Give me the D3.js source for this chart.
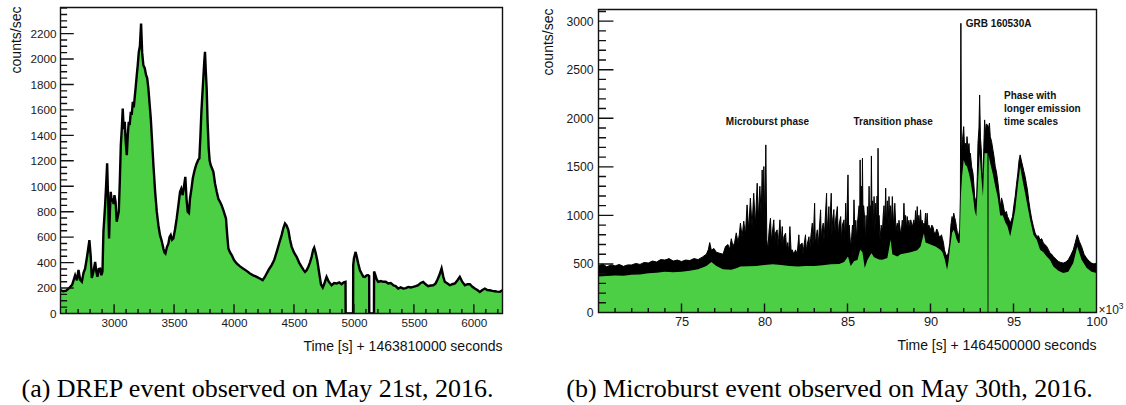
<!DOCTYPE html>
<html><head><meta charset="utf-8">
<script src="https://cdn.jsdelivr.net/npm/d3@7"></script>
<style>
html,body{margin:0;padding:0;background:#fff;}
svg{display:block;}
</style>
</head><body>
<svg id="chart" width="1126" height="405"></svg>
<script>
// ---------- Panel (a): DREP event ----------
const timeA = [2553,2575,2600,2625,2650,2675,2690,2703,2717,2731,2745,2758,2775,2794,2805,2814,2828,2842,2852,2861,2872,2883,2894,2903,2911,2925,2933,2942,2950,2958,2965,2972,2980,2989,2996,3003,3012,3022,3030,3039,3048,3056,3064,3072,3080,3089,3097,3106,3114,3122,3130,3139,3147,3156,3164,3172,3180,3189,3197,3206,3215,3225,3234,3244,3255,3267,3276,3286,3296,3306,3317,3328,3342,3356,3370,3383,3397,3411,3420,3428,3440,3453,3462,3472,3483,3494,3508,3522,3536,3550,3560,3572,3583,3594,3604,3614,3624,3633,3645,3656,3665,3675,3685,3694,3703,3711,3720,3728,3736,3744,3752,3758,3765,3772,3780,3789,3797,3806,3817,3828,3842,3856,3870,3883,3897,3911,3922,3933,3943,3953,3967,3981,4000,4022,4050,4078,4105,4133,4160,4189,4215,4239,4256,4272,4293,4314,4335,4356,4376,4397,4411,4425,4439,4453,4467,4481,4500,4522,4543,4564,4578,4592,4605,4619,4633,4647,4660,4669,4680,4694,4710,4725,4740,4755,4772,4790,4814,4835,4856,4877,4897,4915,4930,4931,4993,4994,5000,5014,5025,5036,5050,5064,5078,5092,5106,5119,5127,5128,5167,5168,5175,5189,5203,5224,5244,5265,5286,5307,5328,5348,5369,5390,5411,5432,5453,5474,5494,5515,5536,5557,5578,5598,5619,5640,5661,5680,5694,5712,5731,5745,5758,5780,5800,5820,5842,5862,5883,5903,5925,5946,5967,5988,6008,6029,6050,6071,6092,6112,6133,6155,6175,6196,6217,6239];
const countsA = [185,175,180,200,225,300,260,342,265,250,320,352,450,576,450,280,330,406,330,288,350,352,301,330,642,852,1000,1180,900,589,800,956,880,904,860,930,880,721,760,800,1050,1323,1450,1611,1450,1506,1350,1244,1400,1506,1480,1585,1560,1663,1620,1700,1780,1873,1950,2056,2100,2279,2050,1952,1930,1873,1850,1768,1650,1532,1350,1165,960,800,690,616,570,511,480,472,520,550,600,616,580,590,660,747,850,956,980,930,1000,1074,900,800,790,904,980,1061,1100,1139,1170,1191,1210,1218,1400,1585,1720,1847,1980,2056,1900,1768,1500,1296,1200,1165,1140,1113,1020,956,900,878,850,812,780,747,620,511,480,459,420,393,370,352,335,314,300,288,275,262,285,314,350,380,420,485,550,616,670,707,690,655,580,524,480,445,400,366,345,327,340,366,400,445,500,518,480,419,320,230,205,240,288,250,222,240,236,245,230,245,249,0,0,380,432,484,440,393,340,314,290,288,300,301,295,0,0,330,314,270,249,255,249,250,236,240,222,215,196,205,196,200,209,205,209,215,222,240,249,230,215,220,222,235,262,300,354,290,249,235,222,230,236,260,288,250,222,230,230,210,196,185,170,185,196,185,183,178,175,172,170,183];
const xTicksA = [3000,3500,4000,4500,5000,5500,6000];
const yTicksA = [0,200,400,600,800,1000,1200,1400,1600,1800,2000,2200];
const xTitleA = "Time [s] + 1463810000 seconds";
const captionA = "(a) DREP event observed on May 21st, 2016.";

// ---------- Panel (b): Microburst event (time in units of 10^3 s) ----------
const timeUB = [70.0,70.25,70.5,70.75,71.0,71.25,71.5,71.75,72.0,72.25,72.5,72.75,73.0,73.25,73.5,73.75,74.0,74.25,74.5,74.75,75.0,75.25,75.5,75.75,76.0,76.25,76.5,76.62,76.7,76.8,76.95,77.1,77.3,77.5,77.65,77.8,77.9,78.0,78.1,78.2,78.3,78.4,78.48,
78.55,78.65,78.75,78.85,78.95,79.05,79.15,79.25,79.35,79.45,79.56,79.62,79.72,79.8,79.86,79.92,79.96,80.02,80.08,80.14,80.2,80.28,80.36,80.42,80.46,80.56,80.62,80.66,80.76,80.82,80.85,80.93,81.0,81.07,81.12,81.17,81.27,81.33,81.4,81.46,81.53,81.6,81.67,81.77,81.87,81.97,82.07,82.12,82.17,82.27,82.32,82.37,82.47,82.52,82.57,82.68,82.73,82.78,82.88,82.92,82.95,83.02,83.06,83.1,83.18,83.23,83.28,83.38,83.42,83.46,83.54,83.58,83.64,83.74,83.77,83.8,83.88,83.92,83.95,84.02,84.06,84.1,84.18,84.23,84.28,84.39,84.44,84.49,84.59,84.64,84.69,84.79,84.84,84.89,84.93,84.96,85.03,85.08,85.1,85.19,85.25,85.3,85.35,85.39,85.45,85.5,85.55,85.6,85.7,85.73,85.76,85.8,85.84,85.87,85.9,85.94,85.97,86.04,86.08,86.12,86.16,86.2,86.25,86.3,86.34,86.37,86.4,86.44,86.48,86.52,86.56,86.6,86.65,86.7,86.74,86.78,86.81,86.84,86.87,86.9,86.96,87.03,87.1,87.15,87.2,87.25,87.3,87.35,87.4,87.45,87.5,87.55,87.6,87.65,87.7,87.78,87.85,87.92,88.0,88.05,88.1,88.2,88.25,88.3,88.35,88.4,88.45,88.5,88.55,88.6,88.65,88.7,88.75,88.81,88.9,89.0,89.05,89.1,89.15,89.2,89.25,89.3,89.35,89.4,89.45,89.5,89.55,89.6,89.65,89.7,89.75,89.8,89.85,89.9,
90.0,90.08,90.15,90.22,90.3,90.38,90.45,90.52,90.6,90.66,90.72,90.78,90.84,90.92,91.0,91.08,91.16,91.23,91.3,91.35,91.4,91.45,91.5,91.56,91.62,91.68,91.72,91.76,91.8,91.83,91.86,91.93,92.0,92.05,92.1,92.15,92.2,92.26,92.32,92.36,92.4,92.48,92.56,92.62,92.66,92.72,92.76,92.82,92.86,92.92,92.96,93.01,93.06,93.11,93.16,93.21,93.26,93.31,93.36,93.43,93.5,93.55,93.6,93.68,93.76,93.83,93.9,93.97,94.04,94.12,94.2,94.28,94.36,94.43,94.5,94.57,94.64,94.72,94.8,94.87,94.94,95.02,95.1,95.18,95.26,95.33,95.4,95.48,95.56,95.63,95.7,95.77,95.84,95.92,96.0,96.1,96.2,96.3,96.4,96.5,96.6,96.7,96.8,96.9,97.0,97.1,97.2,97.3,97.4,97.55,97.7,97.85,98.0,98.15,98.3,98.45,98.6,98.72,98.84,98.97,99.1,99.25,99.4,99.55,99.7,99.85,100.0];
const upperB = [480,500,470,490,480,495,475,490,490,505,495,515,510,530,520,545,540,555,530,540,525,540,535,555,545,570,600,650,720,640,660,620,610,600,680,700,650,760,680,720,820,720,800,
920,780,940,800,1108,850,1177,880,1228,900,1331,950,1300,1000,1468,1050,1503,900,1726,750,645,850,971,720,800,954,700,820,851,680,760,954,700,885,680,780,817,650,720,620,885,640,645,600,645,600,800,620,700,714,600,680,800,620,700,780,640,760,920,680,800,1125,700,760,851,680,800,1057,720,850,920,740,900,1228,760,900,1091,760,950,1228,780,950,1060,760,950,1091,760,900,988,740,900,954,740,1125,760,950,1417,700,900,680,780,900,760,1160,780,950,760,920,1100,820,1571,900,1300,900,1589,850,1100,954,700,1000,760,1091,800,1300,850,1100,850,1612,850,1150,850,1194,820,1125,850,1200,850,1691,820,1000,748,900,817,1000,1100,880,1280,900,1150,880,1194,900,1100,900,1194,880,1125,850,920,820,950,817,850,950,860,1125,880,1000,860,988,870,950,860,954,880,954,880,1050,900,1091,900,1000,900,1057,900,950,880,920,900,1023,880,1023,860,900,
851,900,880,820,817,860,830,780,783,800,760,720,645,600,577,620,714,900,988,950,1023,980,950,886,820,783,820,850,1200,2978,1640,1780,1914,1700,1743,1650,1811,1680,1740,1600,1640,1500,1434,1300,1194,1150,1091,1400,1743,1900,2240,1800,1675,1450,1331,1700,1983,1850,1940,1932,1900,1950,1811,1760,1675,1600,1503,1450,1366,1250,1091,1180,1126,1060,1023,1040,988,960,920,950,988,1100,1194,1320,1434,1560,1623,1560,1503,1450,1400,1330,1263,1150,1057,960,886,820,783,790,748,760,714,700,680,650,611,600,577,550,526,515,509,520,543,590,645,720,800,730,680,600,560,530,509,500,509];
const timeLB = [70.0,70.5,71.0,71.5,72.0,72.5,73.0,73.5,74.0,74.5,75.0,75.5,76.0,76.5,76.8,77.1,77.5,78.0,78.3,78.55,79.0,79.5,80.0,80.5,81.0,81.5,82.0,82.5,83.0,83.5,84.0,84.5,84.8,85.03,85.19,85.4,85.6,85.76,85.9,86.04,86.2,86.44,86.6,86.9,87.1,87.4,87.6,87.7,88.0,88.2,88.5,88.8,89.0,89.2,89.4,89.6,89.7,90.0,90.3,90.6,90.72,90.84,91.0,91.08,91.16,91.3,91.4,91.5,91.56,91.68,91.76,91.8,91.84,91.9,92.0,92.1,92.2,92.32,92.4,92.56,92.66,92.76,92.86,92.96,93.06,93.16,93.26,93.36,93.43,93.44,93.49,93.5,93.6,93.76,93.9,94.04,94.2,94.36,94.5,94.64,94.8,94.94,95.1,95.26,95.4,95.56,95.7,95.84,96.0,96.2,96.4,96.6,96.8,97.0,97.2,97.4,97.7,98.0,98.3,98.6,98.84,99.1,99.4,99.7,100.0];
const lowerB = [370,375,380,378,388,392,405,410,420,415,420,430,445,480,520,480,445,440,455,474,476,480,490,498,490,478,474,478,480,486,496,500,520,577,480,530,540,645,620,457,540,611,570,545,542,560,748,600,577,600,611,620,630,640,680,817,720,700,680,645,620,560,440,520,645,820,851,800,760,714,720,1000,1229,1400,1571,1520,1503,1430,1366,1200,1050,988,1331,1640,1400,1194,1640,1640,1640,0,0,1620,1537,1420,1300,1194,1000,1000,930,886,783,900,1050,1300,1500,1350,1229,1100,954,800,748,645,620,577,540,474,430,406,420,509,680,543,460,420,406];
const xTicksB = [75,80,85,90,95,100];
const yTicksB = [0,500,1000,1500,2000,2500,3000];
const xTitleB = "Time [s] + 1464500000 seconds";
const captionB = "(b) Microburst event observed on May 30th, 2016.";
const notesB = [
  {t: 77.67, v: 1930, lines: ["Microburst phase"]},
  {t: 85.36, v: 1930, lines: ["Transition phase"]},
  {t: 92.13, v: 2935, lines: ["GRB 160530A"]},
  {t: 94.43, v: 2195, lines: ["Phase with", "longer emission", "time scales"]}
];

// ---------- drawing ----------
const GREEN = "#4ccf44";
const SANS = "'Liberation Sans', Arial, Helvetica, sans-serif";
const SERIF = "'Liberation Serif', 'Times New Roman', serif";
const svg = d3.select("#chart");
svg.append("rect").attr("width",1126).attr("height",405).attr("fill","#fff");

function drawFrame(g, x, y, opts) {
  const [x0, x1] = x.range();
  const [yb, yt] = y.range();
  const w = x1 - x0, h = yb - yt;
  // tick labels through d3 axes
  const gy = g.append("g").attr("transform", `translate(${x0},0)`)
    .call(d3.axisLeft(y).tickValues(opts.yTicks).tickSize(0).tickPadding(opts.yPad).tickFormat(d3.format("d")));
  const gx = g.append("g").attr("transform", `translate(0,${yb})`)
    .call(d3.axisBottom(x).tickValues(opts.xTicks).tickSize(0).tickPadding(opts.xPad).tickFormat(d3.format("d")));
  g.selectAll(".domain").remove();
  gy.selectAll("text").attr("font-family",SANS).attr("font-size",opts.fs).attr("fill","#1a1a1a");
  gx.selectAll("text").attr("font-family",SANS).attr("font-size",opts.fsx).attr("fill","#1a1a1a");
  // frame and tick marks in one path, built from the scales
  const p = d3.path();
  p.moveTo(x0, yt); p.lineTo(x1, yt); p.lineTo(x1, yb); p.lineTo(x0, yb); p.closePath();
  d3.range(0, y.domain()[1], opts.yMinorStep).forEach(v => {
    const L = (opts.yTicks.indexOf(v) >= 0 ? 0.03 : 0.015) * w;
    const yy = y(v);
    p.moveTo(x0, yy); p.lineTo(x0 + L, yy);
  });
  opts.xMinor.forEach(v => {
    const L = (opts.xTicks.indexOf(v) >= 0 ? 0.03 : 0.015) * h;
    const xx = x(v);
    p.moveTo(xx, yb); p.lineTo(xx, yb - L);
  });
  g.append("path").attr("d", p.toString()).attr("fill","none")
    .attr("stroke","#111").attr("stroke-width",1.4);
  g.append("text").attr("x",x1).attr("y",opts.xTitleY).attr("text-anchor","end")
    .attr("font-family",SANS).attr("font-size",14).attr("fill","#111").text(opts.xTitle);
  g.append("text").attr("transform",`translate(${opts.yTitleX},${yt-1}) rotate(-90)`).attr("text-anchor","end")
    .attr("font-family",SANS).attr("font-size",14).attr("fill","#111").text("counts/sec");
}

// Panel a
{
  const x = d3.scaleLinear([2553, 6239], [60.5, 502.5]);
  const y = d3.scaleLinear([0, 2405], [313.5, 7.5]);
  const g = svg.append("g");
  g.append("clipPath").attr("id","clipA").append("rect")
    .attr("x",60.5).attr("y",7.5).attr("width",442).attr("height",306);
  const pts = timeA.map((t,i)=>[t, countsA[i]]);
  const area = d3.area().x(d=>x(d[0])).y0(y(0)).y1(d=>y(d[1]));
  const line = d3.line().x(d=>x(d[0])).y(d=>y(d[1]));
  const cg = g.append("g").attr("clip-path","url(#clipA)");
  cg.append("path").attr("d", area(pts)).attr("fill", GREEN);
  cg.append("path").attr("d", line(pts)).attr("fill","none").attr("stroke","#000")
    .attr("stroke-width",2.4).attr("stroke-linejoin","miter");
  drawFrame(g, x, y, {
    yTicks: yTicksA, xTicks: xTicksA, yMinorStep: 50, xMinor: d3.range(2600, 6239, 100),
    yPad: 4, xPad: 5, fs: 11.7, fsx: 11.7, xTitle: xTitleA, xTitleY: 350.5, yTitleX: 20.5
  });
  svg.append("text").attr("x",257.5).attr("y",397).attr("text-anchor","middle")
    .attr("font-family",SERIF).attr("font-size",26).attr("fill","#000").text(captionA);
}

// Panel b
{
  const x = d3.scaleLinear([70, 100], [598.5, 1096.5]);
  const y = d3.scaleLinear([0, 3120], [312.5, 9.5]);
  const g = svg.append("g");
  g.append("clipPath").attr("id","clipB").append("rect")
    .attr("x",598.5).attr("y",9.5).attr("width",498).attr("height",303);
  const up = timeUB.map((t,i)=>[t, upperB[i]]);
  const lo = timeLB.map((t,i)=>[t, lowerB[i]]);
  const area = d3.area().x(d=>x(d[0])).y0(y(0)).y1(d=>y(d[1]));
  const line = d3.line().x(d=>x(d[0])).y(d=>y(d[1]));
  const cg = g.append("g").attr("clip-path","url(#clipB)");
  cg.append("path").attr("d", area(up)).attr("fill","#000");
  cg.append("path").attr("d", line(up)).attr("fill","none").attr("stroke","#000").attr("stroke-width",1);
  cg.append("path").attr("d", area(lo)).attr("fill", GREEN);
  drawFrame(g, x, y, {
    yTicks: yTicksB, xTicks: xTicksB, yMinorStep: 100, xMinor: d3.range(71, 100, 1),
    yPad: 5, xPad: 4, fs: 12.2, fsx: 12.8, xTitle: xTitleB, xTitleY: 349.5, yTitleX: 553
  });
  const ex = g.append("text").attr("x",1098.5).attr("y",313.5).attr("font-family",SANS)
    .attr("font-size",12).attr("fill","#1a1a1a");
  ex.append("tspan").text("\u00d710");
  ex.append("tspan").attr("font-size",8.5).attr("dy",-5).text("3");
  notesB.forEach(n => {
    const t = g.append("text").attr("font-family",SANS).attr("font-weight","bold")
      .attr("font-size",10).attr("fill","#111");
    n.lines.forEach((s,k) => t.append("tspan").attr("x", x(n.t)).attr("y", y(n.v) + k*12.7).text(s));
  });
  svg.append("text").attr("x",829.5).attr("y",397).attr("text-anchor","middle")
    .attr("font-family",SERIF).attr("font-size",26).attr("fill","#000").text(captionB);
}
</script>
</body></html>
